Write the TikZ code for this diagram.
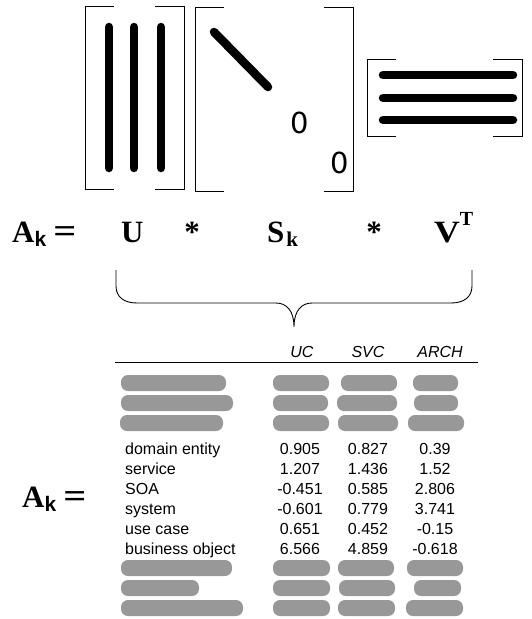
\documentclass[tikz,border=0pt]{standalone}
\usepackage{fontspec}
\setmainfont{Liberation Serif}
\newfontfamily\arialf{Liberation Sans}
\newfontfamily\dejavuf{DejaVu Sans}
\definecolor{blobgray}{RGB}{152,152,152}
\newcommand\ksub{\raisebox{-4pt}{\arialf\bfseries\fontsize{21}{21}\selectfont k}}
\newcommand\kser{\raisebox{-4pt}{\fontsize{21}{21}\selectfont k}}
\newcommand\wideeq{\scalebox{1.3}[1.1]{=}}
\newcommand\tsup{\raisebox{17pt}{\fontsize{20}{20}\selectfont T}}
\begin{document}
\begin{tikzpicture}[x=1pt,y=-1pt,
  brk/.style={line width=0.9pt},
  bar/.style={line width=8.5pt,line cap=round},
  blob/.style={fill=blobgray,rounded corners=7pt},
  eq/.style={inner sep=0pt,font=\fontsize{31}{31}\selectfont\bfseries},
  cell/.style={inner sep=0pt,font=\arialf\fontsize{16}{16}\selectfont},
  hdr/.style={inner sep=0pt,font=\arialf\itshape\fontsize{16}{16}\selectfont},
  zero/.style={inner sep=0pt,font=\dejavuf\fontsize{29}{29}\selectfont}]
\useasboundingbox (0,0) rectangle (531,619);

% ---------- U matrix ----------
\draw[brk] (114,6) -- (85,6) -- (85,189) -- (114,189);
\draw[brk] (155,6) -- (184,6) -- (184,189) -- (155,189);
\draw[bar] (109,27) -- (109,168);
\draw[bar] (134,27) -- (134,168);
\draw[bar] (161,27) -- (161,168);

% ---------- S matrix ----------
\draw[brk] (224,7) -- (195,7) -- (195,191) -- (224,191);
\draw[brk] (324,7) -- (353,7) -- (353,191) -- (324,191);
\draw[bar] (214,32) -- (268,87);
\node[zero] (z1) at (300,123) {0};
\node[zero] (z2) at (340,163) {0};

% ---------- V matrix ----------
\draw[brk] (396,59) -- (367,59) -- (367,136) -- (396,136);
\draw[brk] (493,59) -- (522,59) -- (522,136) -- (493,136);
\draw[bar] (383,75) -- (513,75);
\draw[bar] (383,98) -- (513,98);
\draw[bar] (383,120) -- (513,120);

% ---------- equation ----------
\node[eq,anchor=base west] (Ak) at (12,242) {A\ksub\hspace{7pt}\wideeq};
\node[eq,anchor=base west] (U) at (121,242) {U};
\node[eq,anchor=base] (m1) at (192,242) {*};
\node[eq,anchor=base west] (S) at (267,242) {S\hspace{2pt}\kser};
\node[eq,anchor=base] (m2) at (374,242) {*};
\node[eq,anchor=base west] (V) at (434,242) {\scalebox{1.15}[1]{V}\tsup};

% ---------- brace ----------
\draw[line width=0.9pt] (116,270) -- (116,286)
  .. controls (116,297) and (124,303) .. (137,303)
  -- (276,303)
  .. controls (286,303) and (294,310) .. (294,327)
  .. controls (294,310) and (302,303) .. (312,303)
  -- (451,303)
  .. controls (464,303) and (472,297) .. (472,286)
  -- (472,270);

% ---------- table ----------
\node[hdr,anchor=base] (hUC) at (302,357) {UC};
\node[hdr,anchor=base] (hSVC) at (368,357) {SVC};
\node[hdr,anchor=base] (hARCH) at (440,357) {ARCH};
\draw[line width=0.9pt] (115,362) -- (478,362);

% hidden rows (top)
\fill[blob] (121,375) rectangle (226,391);
\fill[blob] (273,375) rectangle (329,391);
\fill[blob] (341,375) rectangle (397,391);
\fill[blob] (413,375) rectangle (458,391);

\fill[blob] (121,395) rectangle (233,411);
\fill[blob] (273,395) rectangle (328,411);
\fill[blob] (337,395) rectangle (397,411);
\fill[blob] (414,395) rectangle (458,411);

\fill[blob] (120,415) rectangle (223,431);
\fill[blob] (273,415) rectangle (329,431);
\fill[blob] (338,415) rectangle (398,431);
\fill[blob] (408,415) rectangle (464,431);

% visible rows
\node[cell,anchor=base west] (l1) at (125,454) {domain entity};
\node[cell,anchor=base] (a1) at (300,454) {0.905};
\node[cell,anchor=base] (b1) at (368,454) {0.827};
\node[cell,anchor=base] (c1) at (435,454) {0.39};

\node[cell,anchor=base west] (l2) at (125,474) {service};
\node[cell,anchor=base] (a2) at (300,474) {1.207};
\node[cell,anchor=base] (b2) at (368,474) {1.436};
\node[cell,anchor=base] (c2) at (435,474) {1.52};

\node[cell,anchor=base west] (l3) at (125,494) {SOA};
\node[cell,anchor=base] (a3) at (300,494) {-0.451};
\node[cell,anchor=base] (b3) at (368,494) {0.585};
\node[cell,anchor=base] (c3) at (435,494) {2.806};

\node[cell,anchor=base west] (l4) at (125,514) {system};
\node[cell,anchor=base] (a4) at (300,514) {-0.601};
\node[cell,anchor=base] (b4) at (368,514) {0.779};
\node[cell,anchor=base] (c4) at (435,514) {3.741};

\node[cell,anchor=base west] (l5) at (125,534) {use case};
\node[cell,anchor=base] (a5) at (300,534) {0.651};
\node[cell,anchor=base] (b5) at (368,534) {0.452};
\node[cell,anchor=base] (c5) at (435,534) {-0.15};

\node[cell,anchor=base west] (l6) at (125,554) {business object};
\node[cell,anchor=base] (a6) at (300,554) {6.566};
\node[cell,anchor=base] (b6) at (368,554) {4.859};
\node[cell,anchor=base] (c6) at (435,554) {-0.618};

% hidden rows (bottom)
\fill[blob] (121,560) rectangle (232,576);
\fill[blob] (273,560) rectangle (330,576);
\fill[blob] (338,560) rectangle (394,576);
\fill[blob] (407,560) rectangle (463,576);

\fill[blob] (121,580) rectangle (199,596);
\fill[blob] (273,580) rectangle (330,596);
\fill[blob] (339,580) rectangle (395,596);
\fill[blob] (414,580) rectangle (461,596);

\fill[blob] (121,600) rectangle (243,616);
\fill[blob] (273,600) rectangle (330,616);
\fill[blob] (338,600) rectangle (395,616);
\fill[blob] (406,600) rectangle (463,616);

% second A_k
\node[eq,anchor=base west] (Ak2) at (22,507) {A\ksub\hspace{7pt}\wideeq};
\end{tikzpicture}
\end{document}
